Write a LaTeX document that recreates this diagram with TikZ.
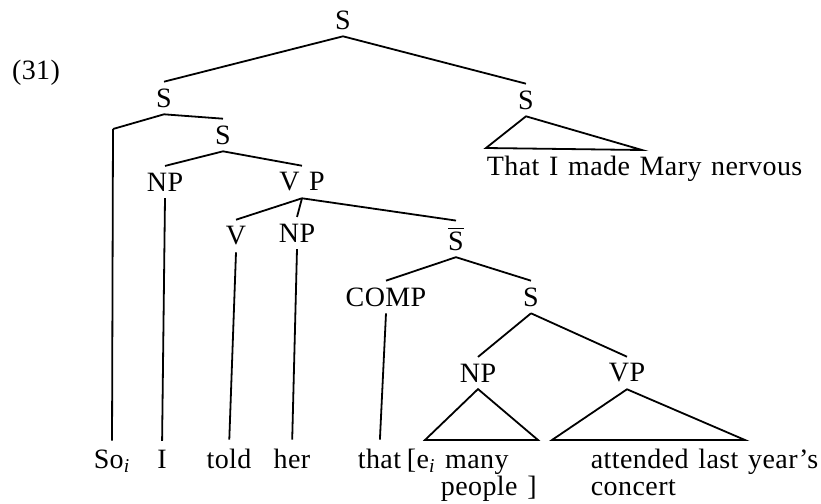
\documentclass[tikz,border=0pt]{standalone}
\usepackage{fontspec}
\setmainfont{Liberation Serif}[LetterSpace=1.5,WordSpace=1.3]
\begin{document}
\begin{tikzpicture}[x=0.5pt,y=-0.5pt, line width=0.9pt,
  every node/.style={font=\fontsize{14}{16}\selectfont},
  cat/.style={inner sep=3pt},
  word/.style={inner sep=0pt, anchor=base},
  leaf/.style={shorten >=4pt}]
\useasboundingbox (0,0) rectangle (821,504);
% category labels
\node[cat] (ex) at (36,73) {(31)};
\node[cat] (s0) at (343,20) {S};
\node[cat] (s1) at (164,98) {S};
\node[cat] (s2) at (526,100) {S};
\node[cat] (s3) at (223,135) {S};
\node[cat] (np1) at (165,182) {NP};
\node[cat] (vp1) at (302,182) {V P};
\node[cat] (v) at (236,236) {V};
\node[cat] (np2) at (297,233) {NP};
\node[cat,anchor=base] (sb) at (456,250) {$\overline{\mbox{S}}$};
\node[cat] (comp) at (386,297) {COMP};
\node[cat] (s4) at (531,297) {S};
\node[cat] (np3) at (478,373) {NP};
\node[cat] (vp3) at (627,373) {VP};
% words
\node[word] (so) at (112,468) {So\textsubscript{\itshape i}};
\node[word] (i) at (162,468) {I};
\node[word] (told) at (229,468) {told};
\node[word] (her) at (292,468) {her};
\node[word,anchor=base west] (that) at (357,468) {that};
\node[word,anchor=base west] (many) at (406,468) {[e\textsubscript{\itshape i} many};
\node[word,anchor=base west] (people) at (440,495) {people ]};
\node[word,anchor=base west] (att) at (590,468) {attended last year's};
\node[word,anchor=base west] (conc) at (590,495) {concert};
\node[word,anchor=base west] (mary) at (486,175) {That I made Mary nervous};
% helper coordinates
\coordinate (bend) at (113,129);
\coordinate (t1l) at (486,148);
\coordinate (t1r) at (642,150);
\coordinate (t2l) at (425,440);
\coordinate (t2r) at (538,440);
\coordinate (t3l) at (552,440);
\coordinate (t3r) at (745,440);
% branches
\draw (s0.south) -- (s1.north);
\draw (s0.south) -- (s2.north);
\draw (s1.south) -- (bend);
\draw[leaf] (bend) -- (so.north);
\draw (s1.south) -- (s3.north);
\draw (s3.south) -- (np1.north);
\draw (s3.south) -- (vp1.north);
\draw[leaf] (np1.south) -- (i.north);
\draw (vp1.south) -- (v.north);
\draw (vp1.south) -- (np2.north);
\draw (vp1.south) -- (sb.north);
\draw[leaf] (v.south) -- (told.north);
\draw[leaf] (np2.south) -- (her.north);
\draw (sb.south) -- (comp.north);
\draw (sb.south) -- (s4.north);
\draw[leaf] (comp.south) -- (that.north);
\draw (s4.south) -- (np3.north);
\draw (s4.south) -- (vp3.north);
% triangles
\draw (s2.south) -- (t1l) -- (t1r) -- cycle;
\draw (np3.south) -- (t2l) -- (t2r) -- cycle;
\draw (vp3.south) -- (t3l) -- (t3r) -- cycle;
\end{tikzpicture}
\end{document}
